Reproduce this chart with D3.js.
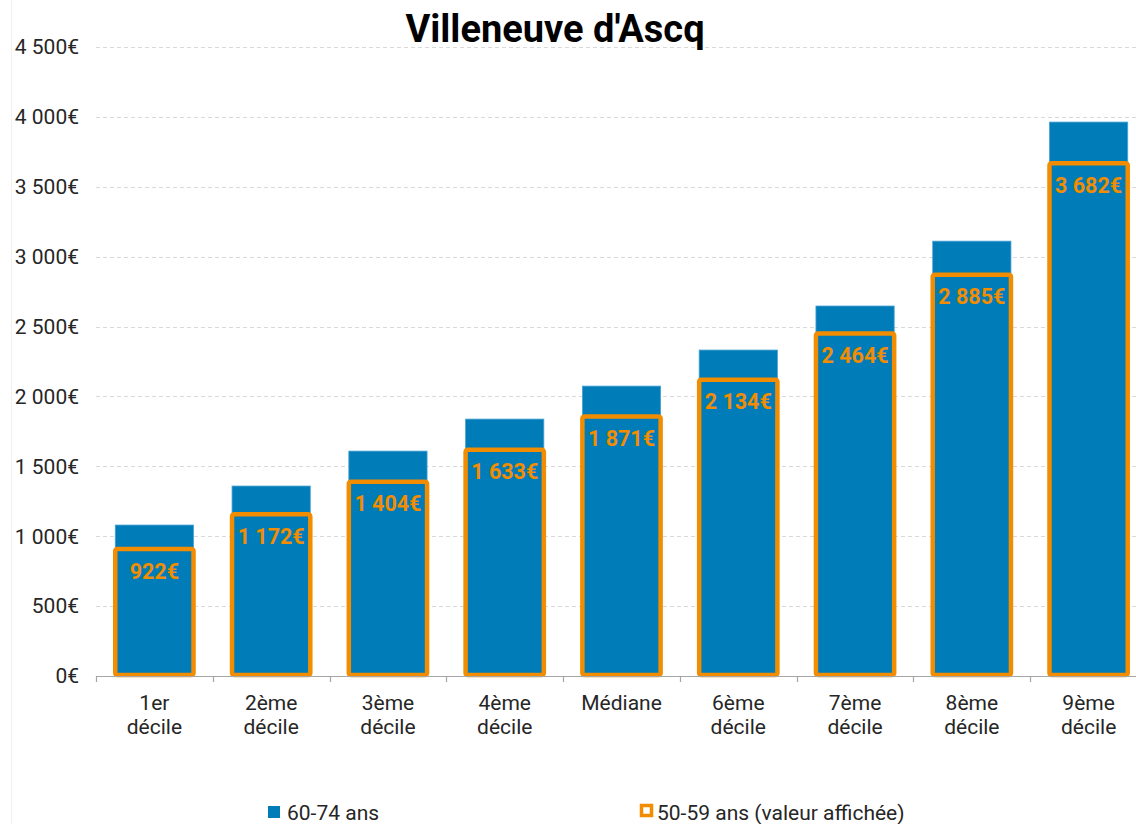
<!DOCTYPE html>
<html>
<head>
<meta charset="utf-8">
<script src="https://cdn.jsdelivr.net/npm/d3@7"></script>
<style>
  body { margin: 0; background: #fff; }
  svg { display: block; font-family: Roboto, "Liberation Sans", sans-serif; }
</style>
</head>
<body>
<div id="chart"></div>
<script>
// Données
const categories = [["1er", "décile"], ["2ème", "décile"], ["3ème", "décile"], ["4ème", "décile"],
  ["Médiane"], ["6ème", "décile"], ["7ème", "décile"], ["8ème", "décile"], ["9ème", "décile"]];
const valeurs_60_74 = [1080, 1359, 1609, 1838, 2074, 2332, 2647, 3111, 3963];
const valeurs_50_59 = [922, 1172, 1404, 1633, 1871, 2134, 2464, 2885, 3682];
const yTicks = [0, 500, 1000, 1500, 2000, 2500, 3000, 3500, 4000, 4500];
const titre = "Villeneuve d'Ascq";
const legende = ["60-74 ans", "50-59 ans (valeur affichée)"];

const width = 1136, height = 824;
const bleu = "#007cb9", orange = "#f28c00";

// Format "4 500€"
const fmt = v => d3.format(",")(v).replace(/,/g, " ") + "€";

const svg = d3.select("#chart").append("svg")
  .attr("width", width)
  .attr("height", height);

// fine bordure à gauche
svg.append("line")
  .attr("x1", 11.5).attr("x2", 11.5).attr("y1", 0).attr("y2", height)
  .attr("stroke", "#f0f0f0");

const idx = categories.map((d, i) => i);
const x = d3.scaleBand().domain(idx).range([96, 1147]).paddingInner(0.33).paddingOuter(0.165);
const y = d3.scaleLinear().domain([0, 4500]).range([676, 47]);

// Grille
svg.append("g")
  .selectAll("line")
  .data(yTicks.filter(d => d > 0))
  .join("line")
  .attr("x1", 96).attr("x2", width)
  .attr("y1", d => Math.round(y(d)) + 0.5).attr("y2", d => Math.round(y(d)) + 0.5)
  .attr("stroke", "#d9d9d9")
  .attr("stroke-dasharray", "4,3");

// Axe Y (labels seulement)
svg.append("g")
  .selectAll("text")
  .data(yTicks)
  .join("text")
  .attr("x", 79)
  .attr("y", d => y(d))
  .attr("dy", "0.35em")
  .attr("text-anchor", "end")
  .attr("font-size", 21)
  .attr("fill", "#262626")
  .text(fmt);

// Barres 60-74 ans
svg.append("g")
  .selectAll("rect")
  .data(valeurs_60_74)
  .join("rect")
  .attr("x", (d, i) => x(i))
  .attr("width", x.bandwidth())
  .attr("y", d => y(d))
  .attr("height", d => y(0) - y(d))
  .attr("fill", bleu)
  .attr("stroke", "#4aa3d3")
  .attr("stroke-width", 0.8);

// Barres 50-59 ans (contour orange)
svg.append("g")
  .selectAll("rect")
  .data(valeurs_50_59)
  .join("rect")
  .attr("x", (d, i) => x(i))
  .attr("width", x.bandwidth())
  .attr("y", d => y(d) + 2)
  .attr("height", d => y(0) - y(d) - 3)
  .attr("rx", 2)
  .attr("fill", "none")
  .attr("stroke", orange)
  .attr("stroke-width", 4.5);

// Valeurs affichées
svg.append("g")
  .selectAll("text")
  .data(valeurs_50_59)
  .join("text")
  .attr("x", (d, i) => x(i) + x.bandwidth() / 2)
  .attr("y", d => y(d) + 31.5)
  .attr("text-anchor", "middle")
  .attr("font-size", 21.5)
  .attr("font-weight", "bold")
  .attr("fill", orange)
  .text(fmt);

// Axe X
const axe = svg.append("g");
axe.append("line")
  .attr("x1", 96).attr("x2", width)
  .attr("y1", 676.5).attr("y2", 676.5)
  .attr("stroke", "#a6a6a6").attr("stroke-width", 1.2);
axe.selectAll(".tick")
  .data(d3.range(categories.length + 1))
  .join("line")
  .attr("x1", i => Math.round(96 + i * x.step()) + 0.5)
  .attr("x2", i => Math.round(96 + i * x.step()) + 0.5)
  .attr("y1", 676).attr("y2", 682)
  .attr("stroke", "#a6a6a6").attr("stroke-width", 1.2);

axe.selectAll("text.cat")
  .data(categories)
  .join("text")
  .attr("class", "cat")
  .attr("text-anchor", "middle")
  .attr("font-size", 21)
  .attr("fill", "#262626")
  .attr("transform", (d, i) => `translate(${x(i) + x.bandwidth() / 2},710)`)
  .selectAll("tspan")
  .data(d => d)
  .join("tspan")
  .attr("x", 0)
  .attr("y", (d, i) => i * 24)
  .text(d => d);

// Titre
svg.append("text")
  .attr("x", 555)
  .attr("y", 42)
  .attr("text-anchor", "middle")
  .attr("font-size", 38)
  .attr("font-weight", "bold")
  .attr("fill", "#000")
  .text(titre);

// Légende
const leg = svg.append("g").attr("font-size", 21).attr("fill", "#262626");
leg.append("rect").attr("x", 268).attr("y", 806).attr("width", 12).attr("height", 12).attr("fill", bleu);
leg.append("text").attr("x", 287).attr("y", 820).text(legende[0]);
leg.append("rect").attr("x", 641.5).attr("y", 805.5).attr("width", 10).attr("height", 10)
  .attr("fill", "#fff").attr("stroke", orange).attr("stroke-width", 3.5);
leg.append("text").attr("x", 657).attr("y", 820).text(legende[1]);
</script>
</body>
</html>
